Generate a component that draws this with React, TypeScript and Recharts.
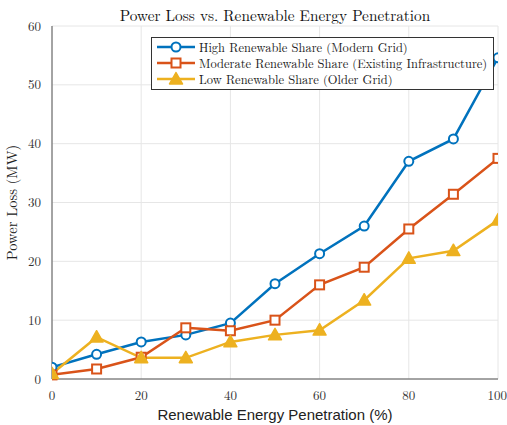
import React from 'react';
import { LineChart, Line, XAxis, YAxis, CartesianGrid, Label } from 'recharts';

const penetration = [0, 10, 20, 30, 40, 50, 60, 70, 80, 90, 100];
const highShare = [2.0, 4.2, 6.3, 7.5, 9.5, 16.2, 21.3, 26.0, 37.0, 40.8, 54.6];
const moderateShare = [0.7, 1.7, 3.7, 8.7, 8.2, 10.0, 16.0, 19.0, 25.5, 31.4, 37.5];
const lowShare = [0.9, 7.1, 3.6, 3.6, 6.3, 7.5, 8.3, 13.4, 20.5, 21.8, 27.0];
const xTicks = [0, 20, 40, 60, 80, 100];
const yTicks = [0, 10, 20, 30, 40, 50, 60];

const seriesInfo = [
    { key: 'high', name: 'High Renewable Share (Modern Grid)', color: '#0072BD', shape: 'circle' },
    { key: 'moderate', name: 'Moderate Renewable Share (Existing Infrastructure)', color: '#D95319', shape: 'square' },
    { key: 'low', name: 'Low Renewable Share (Older Grid)', color: '#EDB120', shape: 'triangle' },
];

const data = penetration.map((p, i) => ({
    p,
    high: highShare[i],
    moderate: moderateShare[i],
    low: lowShare[i],
}));

const serif = '"Latin Modern Roman", "Liberation Serif", "DejaVu Serif", serif';

function Marker({ cx, cy, shape, color }: any) {
    if (cx == null || cy == null) return null;
    if (shape === 'circle') {
        return <circle cx={cx} cy={cy} r={4.5} fill="#fff" stroke={color} strokeWidth={2} />;
    }
    if (shape === 'square') {
        return <rect x={cx - 4.5} y={cy - 4.5} width={9} height={9} fill="#fff" stroke={color} strokeWidth={2} />;
    }
    const s = 6.5;
    return (
        <polygon
            points={`${cx},${cy - s} ${cx - s},${cy + s * 0.75} ${cx + s},${cy + s * 0.75}`}
            fill={color}
            stroke={color}
            strokeWidth={1.5}
            strokeLinejoin="round"
        />
    );
}

// boxed legend in the upper part of the plot
function LegendBox() {
    return (
        <div style={{
            position: 'absolute', left: 151, top: 37,
            border: '1px solid #333', background: '#fff', padding: '1px 6px 2px 3px',
            fontFamily: serif, fontSize: 12.5, color: '#222', lineHeight: '16px',
        }}>
            {seriesInfo.map(s => (
                <div key={s.key} style={{ display: 'flex', alignItems: 'center' }}>
                    <svg width={42} height={16} style={{ marginRight: 2 }}>
                        <line x1={2} y1={8} x2={40} y2={8} stroke={s.color} strokeWidth={2.5} />
                        <Marker cx={21} cy={8} shape={s.shape} color={s.color} />
                    </svg>
                    <span>{s.name}</span>
                </div>
            ))}
        </div>
    );
}

export default function App() {
    return (
        <div style={{ position: 'absolute', left: 0, top: 0, width: 507, height: 425, background: '#fff' }}>
            <div style={{
                position: 'absolute', top: 4, left: 52, width: 446, textAlign: 'center',
                fontFamily: serif, fontSize: 15.3, color: '#111',
            }}>
                Power Loss vs. Renewable Energy Penetration
            </div>
            <LineChart width={507} height={425} data={data} margin={{ top: 26, right: 9, left: 0, bottom: 0 }}>
                <CartesianGrid stroke="#e6e6e6" horizontalValues={yTicks} verticalValues={xTicks} />
                <XAxis
                    dataKey="p"
                    type="number"
                    domain={[0, 100]}
                    ticks={xTicks}
                    allowDataOverflow
                    height={46}
                    stroke="#555"
                    tickLine={false}
                    tickMargin={6}
                    tick={{ fontFamily: serif, fontSize: 13, fill: '#333' }}
                >
                    <Label
                        value="Renewable Energy Penetration (%)"
                        position="insideBottom"
                        offset={5}
                        style={{ fontFamily: '"Liberation Sans", Arial, sans-serif', fontSize: 15, fill: '#222' }}
                    />
                </XAxis>
                <YAxis
                    type="number"
                    domain={[0, 60]}
                    ticks={yTicks}
                    width={52}
                    stroke="#555"
                    tickLine={false}
                    tickMargin={5}
                    tick={{ fontFamily: serif, fontSize: 13, fill: '#333' }}
                >
                    <Label
                        value="Power Loss (MW)"
                        angle={-90}
                        position="insideLeft"
                        offset={12}
                        style={{ textAnchor: 'middle', fontFamily: serif, fontSize: 14.5, fill: '#222' }}
                    />
                </YAxis>
                {seriesInfo.map(s => (
                    <Line
                        key={s.key}
                        dataKey={s.key}
                        name={s.name}
                        stroke={s.color}
                        strokeWidth={2.5}
                        isAnimationActive={false}
                        dot={(props: any) => <Marker key={`${s.key}-${props.index}`} cx={props.cx} cy={props.cy} shape={s.shape} color={s.color} />}
                    />
                ))}
            </LineChart>
            <LegendBox />
        </div>
    );
}
